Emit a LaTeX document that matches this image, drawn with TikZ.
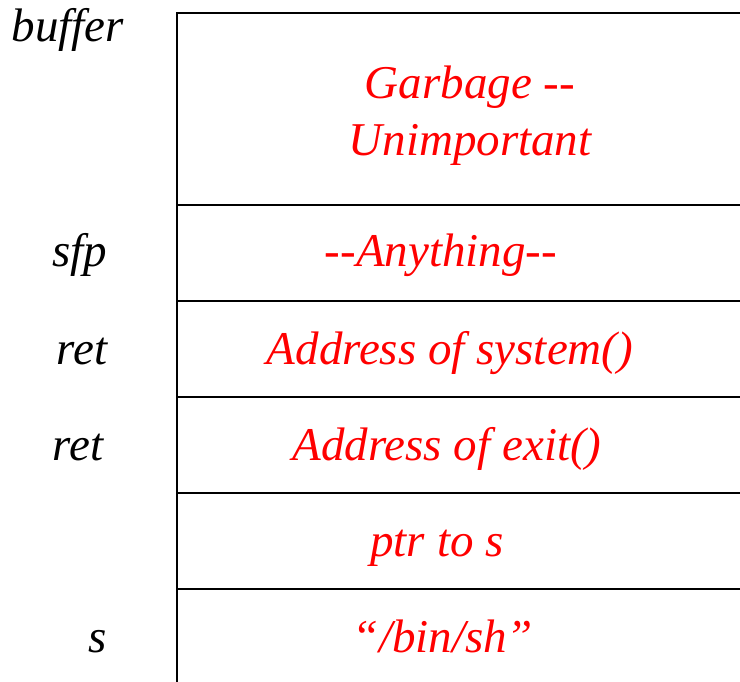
\documentclass[tikz,border=0pt]{standalone}
\usepackage{fontspec}
\setmainfont{Liberation Serif}[ItalicFont={Liberation Serif Italic}]
\begin{document}
\begin{tikzpicture}[x=1pt,y=-1pt,
  celltext/.style={font=\fontsize{47}{52}\selectfont\itshape, text=red, inner sep=0pt},
  lbltext/.style={font=\fontsize{47}{52}\selectfont\itshape, text=black, inner sep=0pt},
  wall/.style={line width=2pt, black}]
\useasboundingbox (0,0) rectangle (740,682);
% frame
\coordinate (tl) at (177,13);
\coordinate (tr) at (740,13);
\coordinate (bl) at (177,682);
\draw[wall] (tr) -- (tl) -- (bl);
\foreach \yy/\nm in {205/a,301/b,397/c,493/d,589/e}{
  \coordinate (l\nm) at (177,\yy);
  \coordinate (r\nm) at (740,\yy);
  \draw[wall] (l\nm) -- (r\nm);
}
% cell texts
\node[celltext, anchor=base] (g1) at (470,99) {Garbage -{}-};
\node[celltext, anchor=base] (g2) at (470,156) {Unimportant};
\node[celltext, anchor=base] (any) at (441,266) {-{}-Anything-{}-};
\node[celltext, anchor=base] (sys) at (450,364) {Address of system()};
\node[celltext, anchor=base] (ex) at (447,460) {Address of exit()};
\node[celltext, anchor=base] (ptr) at (437,556) {ptr to s};
\node[celltext, anchor=base] (sh) at (443,652) {“/bin/sh”};
% labels
\node[lbltext, anchor=base] (buf) at (68,42) {buffer};
\node[lbltext, anchor=base] (sfp) at (80,266) {sfp};
\node[lbltext, anchor=base] (ret1) at (82,364) {ret};
\node[lbltext, anchor=base] (ret2) at (78,460) {ret};
\node[lbltext, anchor=base] (s) at (98,652) {s};
\end{tikzpicture}
\end{document}
